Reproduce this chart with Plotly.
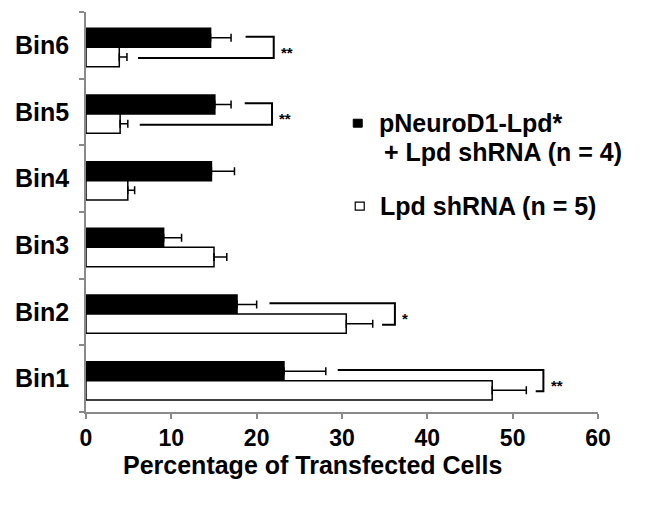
import plotly.graph_objects as go

categories = ["Bin1", "Bin2", "Bin3", "Bin4", "Bin5", "Bin6"]
black_vals = [23.2, 17.7, 9.1, 14.7, 15.1, 14.6]
black_err = [4.9, 2.3, 2.1, 2.7, 1.9, 2.4]
white_vals = [47.6, 30.5, 15.0, 4.9, 4.0, 3.9]
white_err = [4.0, 3.1, 1.5, 0.8, 0.9, 0.9]

x_ticks = [0, 10, 20, 30, 40, 50, 60]
x_title = "Percentage of Transfected Cells"
legend_black_1 = "pNeuroD1-Lpd*"
legend_black_2 = "+ Lpd shRNA (n = 4)"
legend_white = "Lpd shRNA (n = 5)"

sig_bins = ["Bin6", "Bin5", "Bin2", "Bin1"]
sig_top_start = [18.7, 18.6, 21.5, 29.5]
sig_bottom_start = [6.1, 6.3, 34.7, 52.7]
sig_right = [22.0, 21.8, 36.2, 53.6]
sig_labels = ["**", "**", "*", "**"]

FONT = "Liberation Sans, Arial, Helvetica, sans-serif"
pos = list(range(len(categories)))

# page-pixel helpers for the plot area (left 85.5, right 598, top 11.7, bottom 412)
PL, PR, PT, PB = 85.5, 598.0, 11.7, 412.0
def px(x):
    return (x - PL) / (PR - PL)
def py(y):
    return (PB - y) / (PB - PT)

fig = go.Figure()
fig.add_trace(go.Bar(
    y=pos, x=black_vals, orientation="h", name="black",
    width=0.285, offset=-0.03,
    marker=dict(color="black", line=dict(color="black", width=1.5)),
    error_x=dict(type="data", array=black_err, symmetric=False, arrayminus=[0] * 6,
                 color="black", thickness=1.5, width=4),
    showlegend=False,
))
fig.add_trace(go.Bar(
    y=pos, x=white_vals, orientation="h", name="white",
    width=0.29, offset=-0.32,
    marker=dict(color="white", line=dict(color="black", width=1.5)),
    error_x=dict(type="data", array=white_err, symmetric=False, arrayminus=[0] * 6,
                 color="black", thickness=1.5, width=4),
    showlegend=False,
))

for b, ts, bs, r, lab in zip(sig_bins, sig_top_start, sig_bottom_start, sig_right, sig_labels):
    p = categories.index(b)
    fig.add_trace(go.Scatter(
        x=[ts, r, r, bs], y=[p + 0.13, p + 0.13, p - 0.19, p - 0.19],
        mode="lines", line=dict(color="black", width=2), showlegend=False,
        hoverinfo="skip",
    ))
    fig.add_annotation(x=r + 0.6, y=p - 0.1, text=lab, showarrow=False,
                       xanchor="left", yanchor="middle",
                       font=dict(family=FONT, size=15, color="black", weight="bold"))

# legend drawn by hand
fig.add_shape(type="rect", xref="paper", yref="paper",
              x0=px(353), x1=px(362), y0=py(127), y1=py(119),
              fillcolor="black", line=dict(color="black", width=1))
fig.add_shape(type="rect", xref="paper", yref="paper",
              x0=px(355), x1=px(364), y0=py(210), y1=py(202),
              fillcolor="white", line=dict(color="black", width=1.2))
fig.add_annotation(xref="paper", yref="paper", x=px(377), y=py(123),
                   text=legend_black_1, showarrow=False, xanchor="left", yanchor="middle",
                   font=dict(family=FONT, size=25, color="black", weight="bold"))
fig.add_annotation(xref="paper", yref="paper", x=px(382), y=py(152),
                   text=legend_black_2, showarrow=False, xanchor="left", yanchor="middle",
                   font=dict(family=FONT, size=25, color="black", weight="bold"))
fig.add_annotation(xref="paper", yref="paper", x=px(378), y=py(206),
                   text=legend_white, showarrow=False, xanchor="left", yanchor="middle",
                   font=dict(family=FONT, size=25, color="black", weight="bold"))

# x-axis title
fig.add_annotation(xref="paper", yref="paper", x=px(121), y=py(465),
                   text=x_title, showarrow=False, xanchor="left", yanchor="middle",
                   font=dict(family=FONT, size=25, color="black", weight="bold"))

fig.update_layout(
    width=644, height=500,
    margin=dict(l=77.5, r=54, t=3.7, b=96, autoexpand=False),
    plot_bgcolor="white", paper_bgcolor="white",
    barmode="overlay",
    font=dict(family=FONT, color="black"),
)
fig.update_xaxes(
    range=[0, 60], tickvals=x_ticks,
    showline=True, linecolor="#8a8a8a", linewidth=1.5,
    ticks="outside", ticklen=5, tickcolor="#8a8a8a", tickwidth=1.5,
    showgrid=False, zeroline=False,
    tickfont=dict(family=FONT, size=23, color="black", weight="bold"),
)
fig.update_yaxes(
    range=[-0.5, 5.5], tickvals=pos, ticktext=categories,
    showline=True, linecolor="#8a8a8a", linewidth=1.5,
    ticks="", showgrid=False, zeroline=False,
    ticklabelstandoff=10,
    minor=dict(tickvals=[-0.5, 0.5, 1.5, 2.5, 3.5, 4.5, 5.5], ticks="outside",
               ticklen=5, tickcolor="#8a8a8a", tickwidth=1.5, showgrid=False),
    tickfont=dict(family=FONT, size=25, color="black", weight="bold"),
)

fig.write_html("out.html")
